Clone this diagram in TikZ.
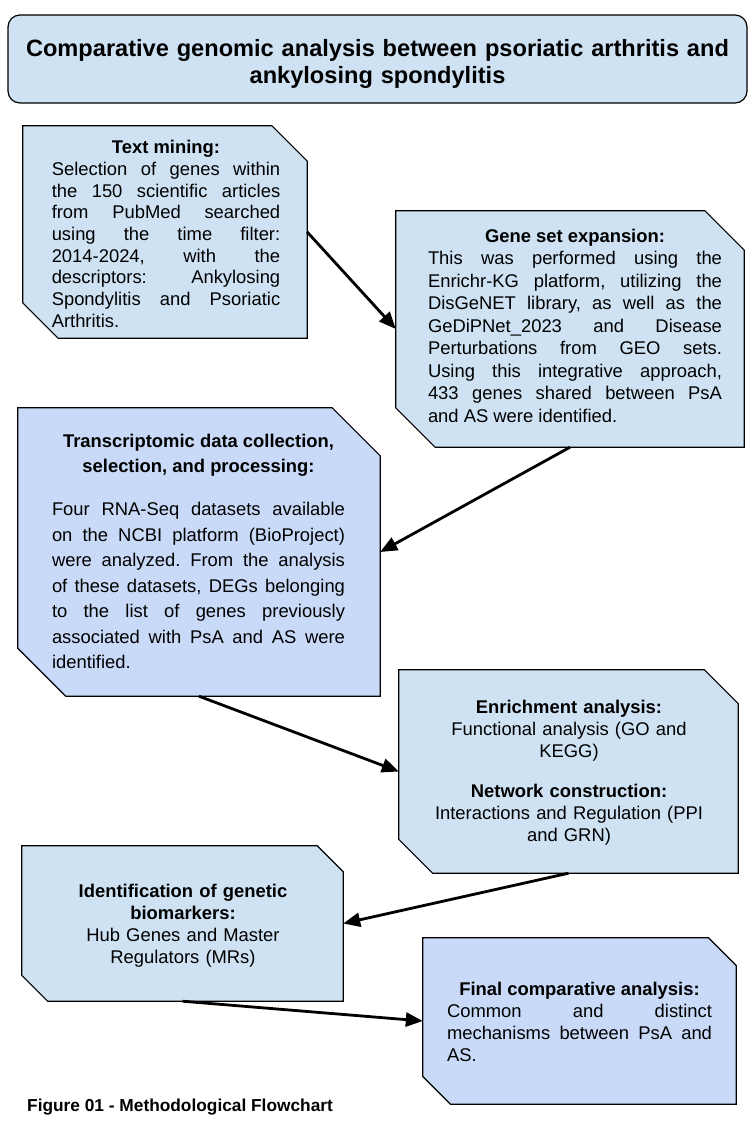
\documentclass[tikz,border=0pt]{standalone}
\usepackage{fontspec}
\setmainfont{Liberation Sans}
\usetikzlibrary{arrows.meta}
\pgfdeclarelayer{background}
\pgfsetlayers{background,main}
\definecolor{lb}{HTML}{CFE2F3}
\definecolor{lc}{HTML}{C9DAF8}
\frenchspacing
\tikzset{
  frame/.style={rectangle, inner sep=0pt, draw=none},
  boxline/.style={draw=black, line width=1.2pt, line join=miter},
  txt/.style={inner sep=0pt, anchor=north},
  flow/.style={draw=black, line width=2.8pt, -{Triangle[length=17pt,width=14pt]}},
}
\newcommand{\bodyfont}[1]{\fontsize{18.4}{#1}\selectfont\parindent=0pt\tolerance=10000\hyphenpenalty=10000\frenchspacing\relax}
\newcommand{\snipfill}[3]{%
  \begin{pgfonlayer}{background}
  \path[boxline, fill=#3] (#1.north west) -- ([xshift=-#2pt]#1.north east) -- ([yshift=-#2pt]#1.north east) -- (#1.south east) -- ([xshift=#2pt]#1.south west) -- ([yshift=#2pt]#1.south west) -- cycle;
  \end{pgfonlayer}}
\begin{document}
\begin{tikzpicture}[x=1pt,y=-1pt]
\useasboundingbox (0,0) rectangle (755,1132);

% title
\node[draw=black, line width=1.2pt, fill=lb, rounded corners=12pt, minimum width=739pt, minimum height=88pt, inner sep=0pt] (title) at (377.5,59) {};
\node[txt, text width=735pt, align=center, font=\bfseries\fontsize{23.6}{27}\selectfont] (titletxt) at (377.5,39)
  {Comparative genomic analysis between psoriatic arthritis and\\ankylosing spondylitis};

% frames
\node[frame, minimum width=284pt, minimum height=212pt] (tm) at (165,232) {};
\node[frame, minimum width=348pt, minimum height=236pt] (gs) at (570,329) {};
\node[frame, minimum width=362pt, minimum height=288pt] (tr) at (199,552) {};
\node[frame, minimum width=339pt, minimum height=203pt] (en) at (568.5,771.5) {};
\node[frame, minimum width=321pt, minimum height=155pt] (id) at (182.5,923.5) {};
\node[frame, minimum width=313pt, minimum height=166pt] (fi) at (579.5,1021) {};
\snipfill{tm}{35.3}{lb}
\snipfill{gs}{39.3}{lb}
\snipfill{tr}{48}{lc}
\snipfill{en}{33.8}{lb}
\snipfill{id}{25.8}{lb}
\snipfill{fi}{27.7}{lc}

% texts
\node[txt, text width=228.5pt, align=justify, font=\bodyfont{21.7}] (tmtxt) at (166,140.1)
  {{\centering\bfseries Text mining:\par}Selection of genes within\linebreak the 150 scientific articles\linebreak from PubMed searched\linebreak using the time filter:\linebreak 2014-2024, with the\linebreak descriptors: Ankylosing\linebreak Spondylitis and Psoriatic\linebreak Arthritis.};

\node[txt, text width=294pt, align=justify, font=\bodyfont{22.5}] (gstxt) at (575,228.5)
  {{\centering\bfseries Gene set expansion:\par}This was performed using the\linebreak Enrichr-KG platform, utilizing the\linebreak DisGeNET library, as well as the\linebreak GeDiPNet\_2023 and Disease\linebreak Perturbations from GEO sets.\linebreak Using this integrative approach,\linebreak 433 genes shared between PsA\linebreak and AS were identified.};

\node[txt, text width=293pt, align=justify, font=\bodyfont{25.5}] (trtxt) at (198.5,433.5)
  {{\centering\bfseries Transcriptomic data collection,\par selection, and processing:\par}\vspace{17.8pt}Four RNA-Seq datasets available\linebreak on the NCBI platform (BioProject)\linebreak were analyzed. From the analysis\linebreak of these datasets, DEGs belonging\linebreak to the list of genes previously\linebreak associated with PsA and AS were\linebreak identified.};

\node[txt, text width=320pt, align=center, font=\bodyfont{22}] (entxt) at (569,700.1)
  {\textbf{Enrichment analysis:}\\Functional analysis (GO and\\KEGG)\\[18pt]\textbf{Network construction:}\\Interactions and Regulation (PPI\\and GRN)};

\node[txt, text width=300pt, align=center, font=\bodyfont{22.2}] (idtxt) at (183,883.5)
  {\textbf{Identification of genetic}\\\textbf{biomarkers:}\\Hub Genes and Master\\Regulators (MRs)};

\node[txt, text width=265pt, align=justify, font=\bodyfont{22}] (fitxt) at (579.5,981.8)
  {{\centering\bfseries Final comparative analysis:\par}Common and distinct\linebreak mechanisms between PsA and\linebreak AS.};

\node[anchor=base west, inner sep=0pt, font=\bfseries\fontsize{17.3}{20}\selectfont] (cap) at (27,1111) {Figure 01 - Methodological Flowchart};

% connectors
\draw[flow] (tm.east) -- (gs.west);
\draw[flow] (gs.south) -- (tr.east);
\draw[flow] (tr.south) -- (en.west);
\draw[flow] (en.south) -- (id.east);
\draw[flow] (id.south) -- (fi.west);
\end{tikzpicture}
\end{document}
